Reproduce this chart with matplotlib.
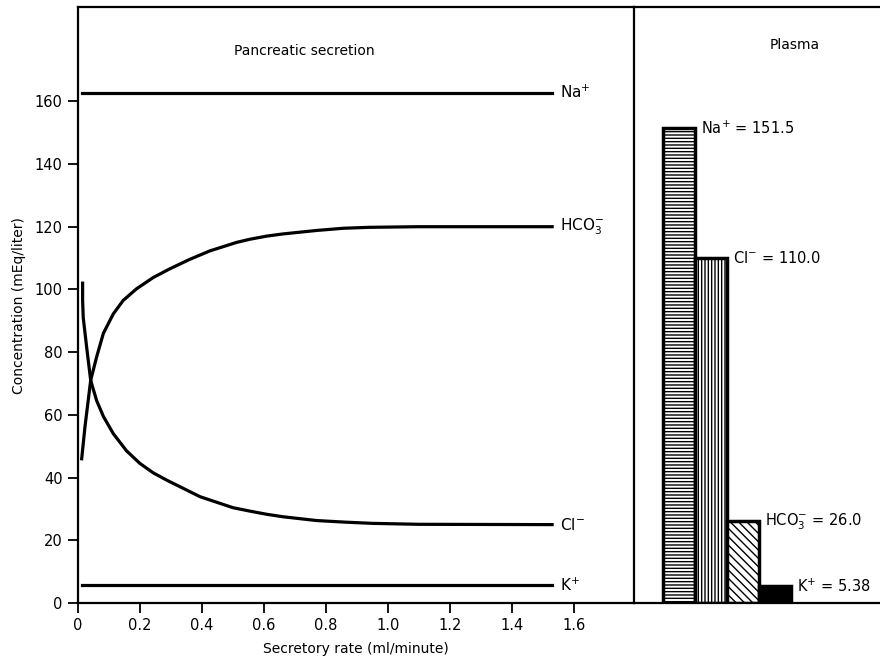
import matplotlib
matplotlib.use('Agg')
import matplotlib.pyplot as plt

plt.rcParams['mathtext.default'] = 'regular'
plt.rcParams['hatch.linewidth'] = 1.0

# secretion curves (secretory rate ml/min -> mEq/liter)
na_rate = [0.013, 1.53]
na_conc = [162.7, 162.7]

k_rate = [0.013, 1.53]
k_conc = [5.7, 5.7]

hco3_rate = [0.012, 0.0226, 0.041, 0.060, 0.082, 0.114, 0.146, 0.189, 0.243, 0.297,
             0.361, 0.426, 0.512, 0.555, 0.609, 0.662, 0.77, 0.856, 0.94, 1.1, 1.53]
hco3_conc = [46, 56.2, 71, 78.4, 86, 92.2, 96.5, 100.2, 103.8, 106.6,
             109.6, 112.3, 115.0, 116.0, 117.0, 117.7, 118.8, 119.5, 119.8, 120, 120]

cl_rate = [0.015, 0.015, 0.017, 0.028, 0.041, 0.060, 0.082, 0.114, 0.157, 0.2, 0.243,
           0.286, 0.394, 0.5, 0.555, 0.609, 0.662, 0.716, 0.77, 0.86, 0.95, 1.1, 1.53]
cl_conc = [102, 96.5, 91, 81.6, 71, 64.6, 59.5, 54, 48.5, 44.5, 41.5,
           39.2, 33.9, 30.4, 29.3, 28.3, 27.5, 26.9, 26.3, 25.8, 25.4, 25.1, 25]

# plasma values
plasma_ions = ['Na', 'Cl', 'HCO3', 'K']
plasma_conc = [151.5, 110.0, 26.0, 5.38]
plasma_labels = ['Na$^{+}$ = 151.5', 'Cl$^{-}$ = 110.0', 'HCO$_3^{-}$ = 26.0', 'K$^{+}$ = 5.38']
plasma_hatch = ['-----', '|||||', '\\\\\\\\', None]
plasma_fill = ['white', 'white', 'white', 'black']

yticks = [0, 20, 40, 60, 80, 100, 120, 140, 160]
xticks = [0, 0.2, 0.4, 0.6, 0.8, 1.0, 1.2, 1.4, 1.6]
xticklabels = ['0', '0.2', '0.4', '0.6', '0.8', '1.0', '1.2', '1.4', '1.6']

fig = plt.figure(figsize=(8.8, 6.65), dpi=100)
ax = fig.add_axes([0.0886, 0.0932, 0.6318, 0.896])
bx = fig.add_axes([0.7205, 0.0932, 0.2795, 0.896], sharey=ax)
bx.patch.set_visible(False)  # keep the divider line fully visible

lw = 2.3
for xs, ys in [(na_rate, na_conc), (hco3_rate, hco3_conc),
               (cl_rate, cl_conc), (k_rate, k_conc)]:
    ax.plot(xs, ys, color='black', lw=lw, solid_joinstyle='round')

fs = 11
ax.text(1.555, na_conc[-1], 'Na$^{+}$', fontsize=fs, va='center', ha='left')
ax.text(1.555, hco3_conc[-1], 'HCO$_3^{-}$', fontsize=fs, va='center', ha='left')
ax.text(1.555, cl_conc[-1], 'Cl$^{-}$', fontsize=fs, va='center', ha='left')
ax.text(1.555, k_conc[-1], 'K$^{+}$', fontsize=fs, va='center', ha='left')
ax.text(0.73, 176, 'Pancreatic secretion', fontsize=10, ha='center', va='center')

ax.set_xlim(0, 1.794)
ax.set_ylim(0, 190)
ax.set_xticks(xticks)
ax.set_xticklabels(xticklabels)
ax.set_yticks(yticks)
ax.tick_params(direction='out', length=7, width=1.3, labelsize=10.5, pad=4)
ax.set_xlabel('Secretory rate (ml/minute)', fontsize=10, labelpad=6)
ax.set_ylabel('Concentration (mEq/liter)', fontsize=10, labelpad=6)
for s in ax.spines.values():
    s.set_linewidth(1.6)

# plasma bars
pos = list(range(len(plasma_ions)))
bars = bx.bar(pos, plasma_conc, width=1.0, color=plasma_fill,
              edgecolor='black', linewidth=2.5)
for b, h in zip(bars, plasma_hatch):
    if h:
        b.set_hatch(h)
for p, v, lab in zip(pos, plasma_conc, plasma_labels):
    bx.text(p + 0.68, v, lab, fontsize=10.5, ha='left', va='center')
bx.text(3.6, 178, 'Plasma', fontsize=10, ha='center', va='center')

bx.set_xlim(-1.406, 6.28)
bx.spines['right'].set_visible(False)
bx.spines['left'].set_visible(False)
for s in ['top', 'bottom']:
    bx.spines[s].set_linewidth(1.6)
bx.tick_params(left=False, bottom=False, labelleft=False, labelbottom=False)

fig.savefig('out.png', dpi=100)
